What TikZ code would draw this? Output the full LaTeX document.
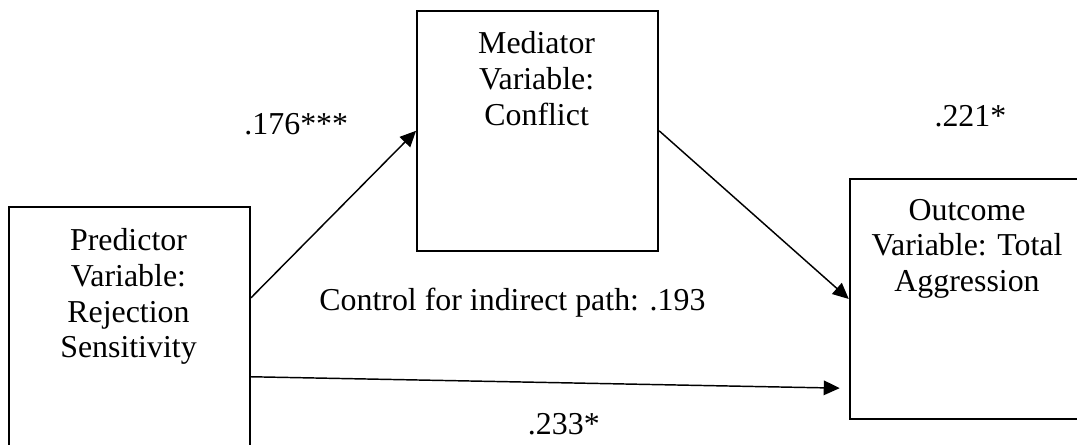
\documentclass[tikz,border=0pt]{standalone}
\usepackage{fontspec}
\setmainfont{Liberation Serif}
\usetikzlibrary{arrows.meta,positioning}
\begin{document}
\begin{tikzpicture}[
    box/.style={draw, line width=1.5pt, minimum width=6.38cm, minimum height=6.35cm,
      anchor=north west, inner sep=0pt},
    boxtext/.style={align=center, font=\fontsize{24}{27}\selectfont, anchor=base, inner sep=0pt},
    coef/.style={font=\fontsize{24}{27}\selectfont, anchor=base, inner sep=0pt},
    link/.style={-{Triangle[length=12pt,width=11pt]}, line width=1.1pt}
  ]
  \useasboundingbox (0,0) rectangle (28.5,11.77);
  % the three boxes
  \node[box, minimum height=6.45cm] (pred) at (0.21,6.32) {};
  \node[box] (med) at (11.01,11.51) {};
  \node[box, minimum width=6.24cm] (out) at (22.46,7.06) {};
  % texts sit on the baseline of their last line
  \node[boxtext] (predtext) at (3.40,2.30) {Predictor\\Variable:\\Rejection\\Sensitivity};
  \node[boxtext] (medtext) at (14.20,8.45) {Mediator\\Variable:\\Conflict};
  \node[boxtext] (outtext) at (25.59,4.05) {Outcome\\Variable: Total\\Aggression};
  % coefficients
  \node[coef] (a) at (7.84,8.20) {.176***};
  \node[coef] (b) at (25.68,8.41) {.221*};
  \node[coef] (c) at (14.92,0.26) {.233*};
  \node[coef] (ind) at (13.56,3.55) {Control for indirect path: .193};
  % paths
  \draw[link] ([yshift=-2.43cm]pred.north east) -- (med.west);
  \draw[link] (med.east) -- (out.west);
  \draw[link] ([yshift=-4.52cm]pred.north east) -- ([xshift=-0.24cm,yshift=-2.36cm]out.west);
\end{tikzpicture}
\end{document}
